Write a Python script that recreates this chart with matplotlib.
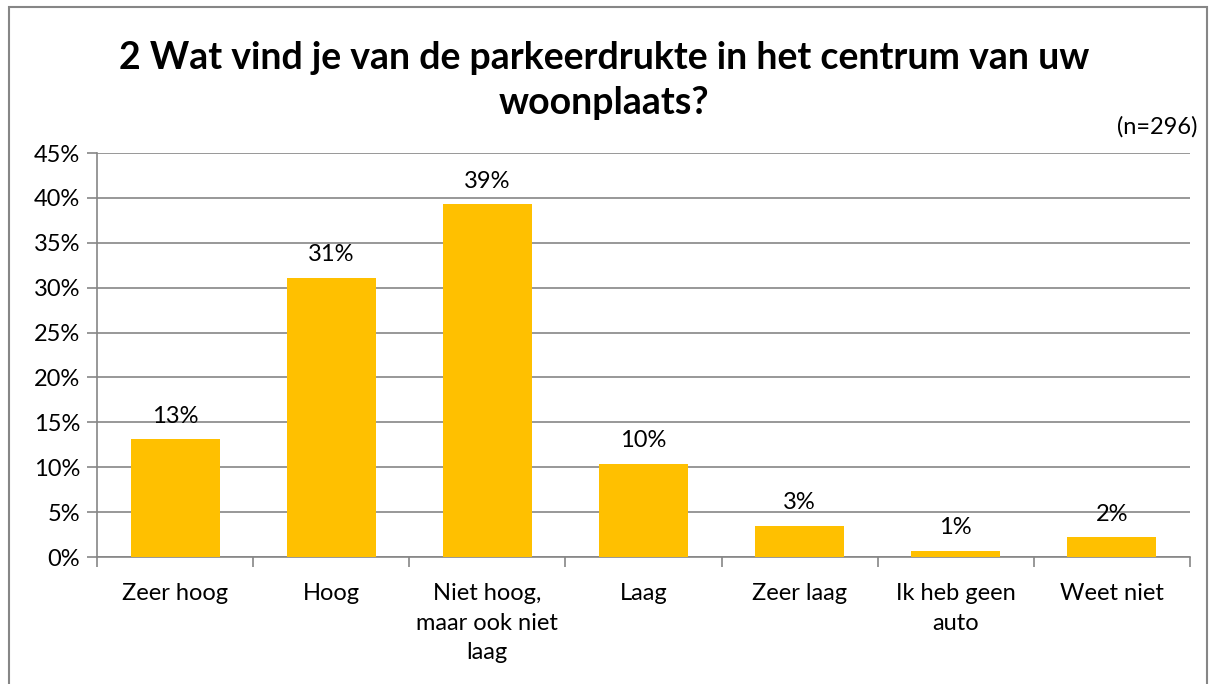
import numpy as np
from matplotlib import pyplot as plt
from matplotlib.patches import Rectangle

categories = ["Zeer hoog", "Hoog", "Niet hoog,\nmaar ook niet\nlaag", "Laag",
              "Zeer laag", "Ik heb geen\nauto", "Weet niet"]
values = [13.1, 31.1, 39.3, 10.4, 3.5, 0.7, 2.2]
labels = ["13%", "31%", "39%", "10%", "3%", "1%", "2%"]

plt.rcParams['font.family'] = ['Lato', 'DejaVu Sans']

fig = plt.figure(figsize=(12.15, 6.84), dpi=100)
ax = fig.add_axes([97 / 1215, 1 - 557 / 684, (1190 - 97) / 1215, (557 - 153) / 684])

x = np.arange(len(categories))
ax.bar(x, values, width=0.57, color='#FFC000', zorder=3)
for xi, v, lab in zip(x, values, labels):
    ax.annotate(lab, (xi, v), xytext=(0, 9), textcoords='offset points',
                ha='center', va='bottom', fontsize=17)

ax.set_xlim(-0.5, len(categories) - 0.5)
ax.set_ylim(0, 45)
ax.set_yticks(np.arange(0, 46, 5))
ax.set_yticklabels(['%d%%' % t for t in range(0, 46, 5)], fontsize=17)
ax.yaxis.grid(True, color='#868686', linewidth=1.2, zorder=0)

ax.set_xticks(np.arange(-0.5, len(categories), 1))
ax.set_xticklabels([])
ax.set_xticks(x, minor=True)
ax.set_xticklabels(categories, minor=True, fontsize=17, va='top', linespacing=1.5)
ax.tick_params(axis='x', which='minor', length=0, pad=19)
ax.tick_params(axis='x', which='major', length=7, color='#868686', width=1.2)
ax.tick_params(axis='y', length=7, color='#868686', width=1.2, pad=5)

for s in ['top', 'right']:
    ax.spines[s].set_visible(False)
for s in ['left', 'bottom']:
    ax.spines[s].set_color('#868686')
    ax.spines[s].set_linewidth(1.2)

fig.text(0.497, 1 - 58 / 684, "2 Wat vind je van de parkeerdrukte in het centrum van uw",
         ha='center', va='center', fontsize=27, fontweight='bold')
fig.text(0.497, 1 - 103 / 684, "woonplaats?",
         ha='center', va='center', fontsize=27, fontweight='bold')
fig.text(1198 / 1215, 1 - 127 / 684, "(n=296)", ha='right', va='center', fontsize=17)

fig.patches.append(Rectangle((9 / 1215, -0.05), (1207 - 9) / 1215, 1.05 - 7 / 684,
                             transform=fig.transFigure, fill=False,
                             edgecolor='#868686', linewidth=1.5))

plt.savefig('out.png')
